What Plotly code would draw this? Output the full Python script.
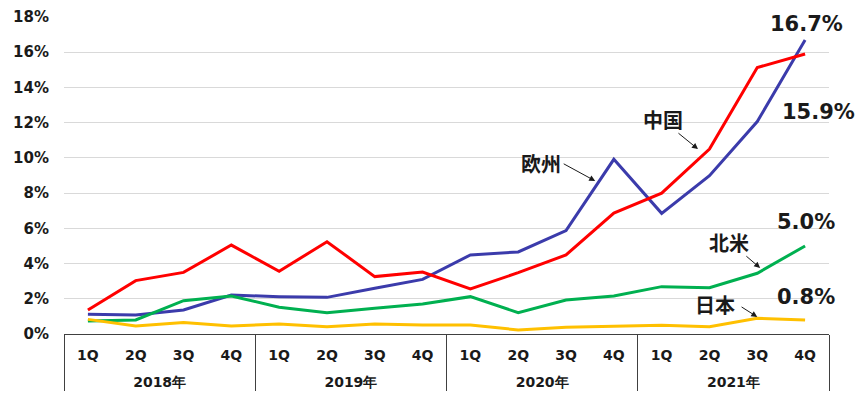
import plotly.graph_objects as go

years = ["2018年", "2019年", "2020年", "2021年"]
quarters = ["1Q", "2Q", "3Q", "4Q"]

# growth rates (%), 2018 1Q .. 2021 4Q
europe = [1.12, 1.08, 1.36, 2.21, 2.12, 2.08, 2.6, 3.1,
          4.49, 4.66, 5.87, 9.92, 6.85, 8.99, 12.06, 16.7]
china = [1.36, 3.03, 3.5, 5.05, 3.56, 5.24, 3.26, 3.52,
         2.56, 3.48, 4.49, 6.87, 8.0, 10.5, 15.13, 15.9]
north_america = [0.74, 0.8, 1.89, 2.16, 1.52, 1.21, 1.46, 1.7,
                 2.12, 1.21, 1.93, 2.16, 2.69, 2.63, 3.45, 5.0]
japan = [0.83, 0.45, 0.66, 0.45, 0.57, 0.41, 0.57, 0.51,
         0.51, 0.23, 0.38, 0.45, 0.49, 0.41, 0.89, 0.8]

# quarter labels get an empty small second line so the year row sits lower
spacer = "<br><span style='font-size:9px'>\u00a0</span>"
x_years = [y for y in years for q in quarters]
x_quarters = [q + spacer for y in years for q in quarters]

series = [
    ("欧州", europe, "#3B3BAB"),
    ("中国", china, "#FF0000"),
    ("北米", north_america, "#00B050"),
    ("日本", japan, "#FFC000"),
]

fig = go.Figure()
for name, vals, color in series:
    fig.add_trace(go.Scatter(x=[x_years, x_quarters], y=vals, name=name, mode="lines",
                             line=dict(color=color, width=3)))

big = dict(family="DejaVu Sans", size=21, color="#1a1a1a", weight="bold")
cjk = dict(family="Noto Sans CJK JP", size=20, color="#1a1a1a", weight="bold")

# end values and series labels (x2 is a hidden index axis over the categories)
labels = [
    ("16.7%", 15.02, 17.6, big),
    ("15.9%", 15.29, 12.6, big),
    ("5.0%", 15.02, 6.36, big),
    ("0.8%", 15.02, 2.1, big),
    ("中国", 12.03, 12.2, cjk),
    ("欧州", 9.48, 9.71, cjk),
    ("北米", 13.41, 5.17, cjk),
    ("日本", 13.12, 1.65, cjk),
]
for text, xi, yv, f in labels:
    fig.add_annotation(x=xi, y=yv, xref="x2", yref="y", text=text, showarrow=False, font=f)

arrows = [
    (12.76, 10.5, 12.32, 11.47),
    (10.61, 8.69, 9.92, 9.71),
    (14.06, 3.75, 13.74, 4.49),
    (14.0, 0.97, 13.64, 1.59),
]
for hx, hy, tx, ty in arrows:
    fig.add_annotation(x=hx, y=hy, ax=tx, ay=ty, xref="x2", yref="y", axref="x2", ayref="y",
                       text="", showarrow=True, arrowhead=2, arrowsize=1.2, arrowwidth=1,
                       arrowcolor="#1a1a1a")

fig.update_layout(
    width=857, height=394,
    margin=dict(l=64, r=28, t=17, b=60),
    plot_bgcolor="white", paper_bgcolor="white",
    showlegend=False,
    xaxis=dict(type="multicategory", range=[-0.5, 15.5], showline=True, linecolor="#404040",
               linewidth=1, showgrid=False, showdividers=True, dividercolor="#404040",
               dividerwidth=1, ticks="outside", ticklen=9, tickcolor="rgba(0,0,0,0)",
               ticklabelstandoff=8, automargin=False,
               tickfont=dict(family="DejaVu Sans", size=14, color="#1a1a1a", weight="bold")),
    xaxis2=dict(overlaying="x", range=[-0.5, 15.5], visible=False),
    yaxis=dict(range=[0, 18], dtick=2, ticksuffix="%", showgrid=True, gridcolor="#D9D9D9",
               gridwidth=1, zeroline=False, ticklabelstandoff=14, automargin=False,
               tickfont=dict(family="DejaVu Sans", size=15, color="#1a1a1a", weight="bold")),
)

# drop the default page margin so the figure fills the window exactly
fig.write_html("out.html", config={"displayModeBar": False},
               post_script="document.body.style.margin='0';document.body.style.overflow='hidden';")
